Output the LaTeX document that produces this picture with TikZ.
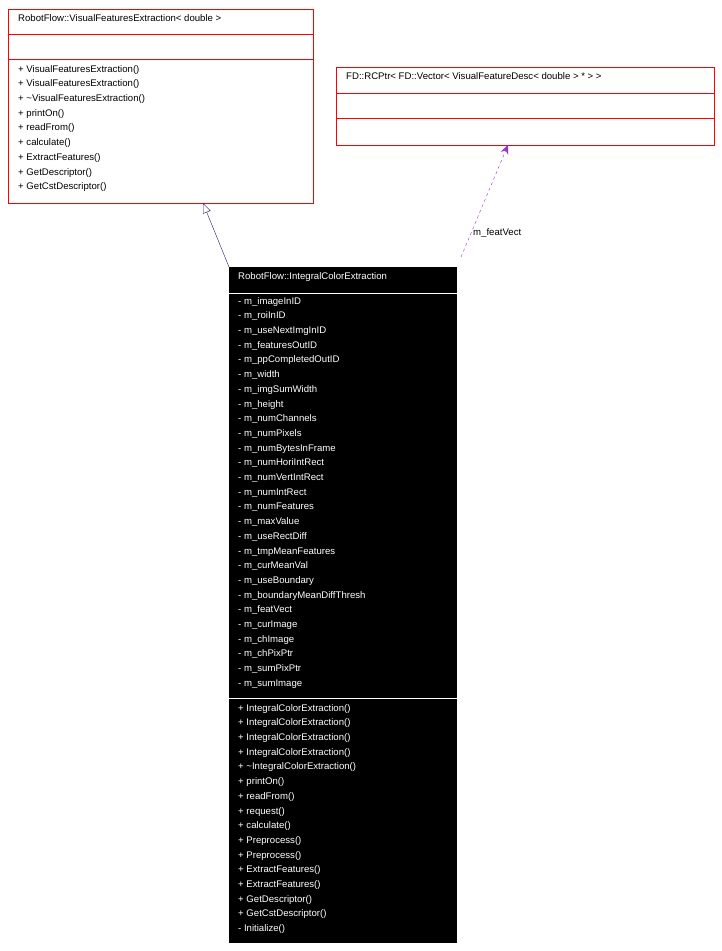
\documentclass[tikz,border=0pt]{standalone}
\usepackage{fontspec}
\setmainfont{Liberation Sans}
\usetikzlibrary{arrows.meta,positioning}
\definecolor{navyline}{RGB}{25,25,112}
\definecolor{usagelink}{RGB}{153,51,204}
\begin{document}
\begin{tikzpicture}[x=1pt,y=-1pt,font=\fontsize{9.6}{14.7}\selectfont]
	\tikzset{classbox/.style={draw=red, thick, fill=white}}
	\tikzset{member/.style={anchor=north west, align=left, inner sep=0pt}}
	\tikzset{inherit/.style={draw=navyline, -{Triangle[open,length=10pt,width=8pt]}}}
	\tikzset{usage/.style={draw=usagelink, dashed, -{Stealth[length=9pt,width=8pt]}}}
	\useasboundingbox (0,0) rectangle (722,951);

	% base class
	\draw[classbox] (8,9) rectangle (313,203);
	\draw[red, thick] (8,34) -- (313,34) (8,59) -- (313,59);
	\node (vfe) [member] at (18,14) {RobotFlow::VisualFeaturesExtraction< double >};
	\node (vfeops) [member] at (18,65) {+ VisualFeaturesExtraction()\\+ VisualFeaturesExtraction()\\+ \textasciitilde VisualFeaturesExtraction()\\+ printOn()\\+ readFrom()\\+ calculate()\\+ ExtractFeatures()\\+ GetDescriptor()\\+ GetCstDescriptor()};
	\coordinate (vfebot) at (203,203);

	% pointer class
	\draw[classbox] (336,67) rectangle (714,145);
	\draw[red, thick] (336,93) -- (714,93) (336,118) -- (714,118);
	\node (ptr) [member] at (346,72) {FD::RCPtr< FD::Vector< VisualFeatureDesc< double > * > >};
	\coordinate (ptrbot) at (508,145);

	% derived class
	\fill[black] (229,267) rectangle (457,943);
	\draw[white] (229,293) -- (457,293) (229,698) -- (457,698);
	\node (ice) [member, text=white] at (238,272) {RobotFlow::IntegralColorExtraction};
	\node (iceattr) [member, text=white] at (238,297) {- m\_imageInID\\- m\_roiInID\\- m\_useNextImgInID\\- m\_featuresOutID\\- m\_ppCompletedOutID\\- m\_width\\- m\_imgSumWidth\\- m\_height\\- m\_numChannels\\- m\_numPixels\\- m\_numBytesInFrame\\- m\_numHoriIntRect\\- m\_numVertIntRect\\- m\_numIntRect\\- m\_numFeatures\\- m\_maxValue\\- m\_useRectDiff\\- m\_tmpMeanFeatures\\- m\_curMeanVal\\- m\_useBoundary\\- m\_boundaryMeanDiffThresh\\- m\_featVect\\- m\_curImage\\- m\_chImage\\- m\_chPixPtr\\- m\_sumPixPtr\\- m\_sumImage};
	\node (iceops) [member, text=white] at (238,704) {+ IntegralColorExtraction()\\+ IntegralColorExtraction()\\+ IntegralColorExtraction()\\+ IntegralColorExtraction()\\+ \textasciitilde IntegralColorExtraction()\\+ printOn()\\+ readFrom()\\+ request()\\+ calculate()\\+ Preprocess()\\+ Preprocess()\\+ ExtractFeatures()\\+ ExtractFeatures()\\+ GetDescriptor()\\+ GetCstDescriptor()\\- Initialize()};
	\coordinate (icetop) at (229,267);
	\coordinate (iceuse) at (461,257);

	\draw[inherit] (icetop) -- (vfebot);
	\draw[usage] (iceuse) -- (ptrbot);
	\node (lbl) [anchor=west, inner sep=0pt] at (473,233) {m\_featVect};
\end{tikzpicture}
\end{document}
